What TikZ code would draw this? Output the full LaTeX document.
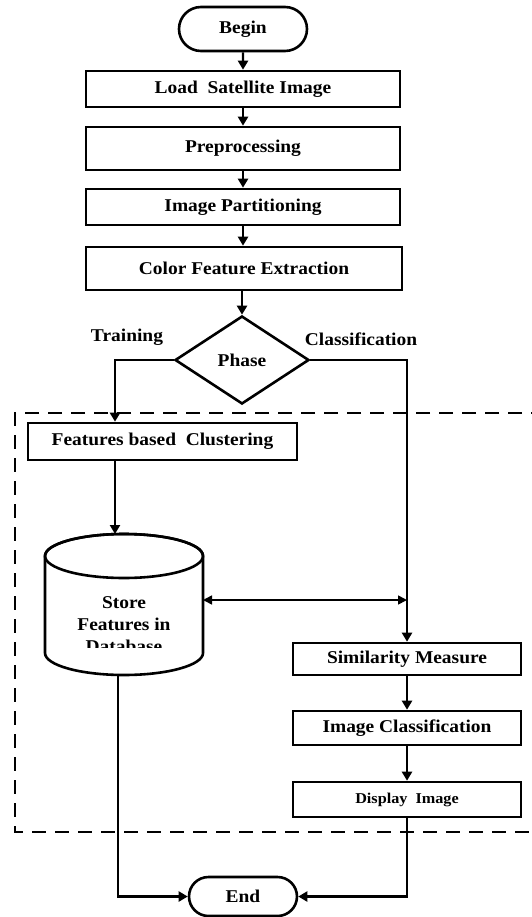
\documentclass[tikz,border=0pt]{standalone}
\usepackage{fontspec}
\setmainfont{Liberation Serif}[FakeStretch=1.08]
\usetikzlibrary{shapes.geometric,shapes.misc,arrows.meta}
\begin{document}
\begin{tikzpicture}[x=1pt,y=-1pt,
  txt/.style={font=\fontsize{18}{20}\selectfont\bfseries},
  box/.style={draw,line width=2.6pt,rectangle,fill=white,inner sep=0pt,txt},
  term/.style={draw,line width=2.6pt,rounded rectangle,fill=white,inner sep=0pt,txt},
  arr/.style={line width=2.2pt,-{Triangle[length=9pt,width=10pt]}},
  dbl/.style={line width=1.6pt,{Triangle[length=9pt,width=9pt]}-{Triangle[length=9pt,width=9pt]}},
  dashbox/.style={line width=2.6pt,dash pattern=on 14pt off 9pt}
]
\useasboundingbox (0,0) rectangle (532,917);

% dashed region
\draw[dashbox] (545,413) -- (15,413) -- (15,832) -- (545,832);

% top chain
\node[term,minimum width=128pt,minimum height=44pt] (begin) at (243,29) {Begin};
\node[box,minimum width=314pt,minimum height=36pt] (load) at (243,89) {Load\ \ Satellite Image};
\node[box,minimum width=314pt,minimum height=43pt] (pre) at (243,148.5) {Preprocessing};
\node[box,minimum width=314pt,minimum height=36pt] (part) at (243,207) {Image Partitioning};
\node[box,minimum width=316pt,minimum height=43pt] (cfe) at (244,268.5) {Color Feature Extraction};
\node[draw,diamond,line width=2.6pt,fill=white,inner sep=0pt,minimum width=134pt,minimum height=88pt,txt] (phase) at (242,360) {Phase};

\node[txt] (train) at (127,337) {Training};
\node[txt] (classlbl) at (361,339) {Classification};

% training branch
\node[box,minimum width=269pt,minimum height=37pt] (feat) at (162.5,441.5) {Features based\ \ Clustering};

% database cylinder
\draw[line width=2.6pt,fill=white] (45,556) -- (45,653)
  arc[start angle=180,end angle=0,x radius=79,y radius=22] -- (203,556)
  arc[start angle=0,end angle=-180,x radius=79,y radius=22] -- cycle;
\draw[line width=2.6pt] (124,556) ellipse[x radius=79,y radius=22];
\coordinate (dbtop) at (115,534);
\coordinate (dbr) at (203,600);
\coordinate (dbbot) at (118,675);
\begin{scope}
  \clip (47,580) rectangle (201,647);
  \node[txt,anchor=base] (db1) at (124,608) {Store};
  \node[txt,anchor=base] (db2) at (124,630) {Features in};
  \node[txt,anchor=base] (db3) at (124,652) {Database};
\end{scope}

% classification branch
\node[box,minimum width=228pt,minimum height=32pt] (sim) at (407,659) {Similarity Measure};
\node[box,minimum width=228pt,minimum height=34pt] (cls) at (407,728) {Image Classification};
\node[box,minimum width=228pt,minimum height=35pt,font=\fontsize{15}{17}\selectfont\bfseries] (disp) at (407,799.5) {Display\ \ Image};

\node[term,minimum width=108pt,minimum height=39pt] (end) at (243,896.5) {End};

% connectors
\draw[arr] (begin) -- (load);
\draw[arr] (load) -- (pre);
\draw[arr] (pre) -- (part);
\draw[arr] (part.south) -- (part.south |- cfe.north);
\draw[arr] (cfe.south -| phase.north) -- (phase.north);
\draw[arr] (phase.west) -| (feat.north -| dbtop);
\draw[arr] (feat.south -| dbtop) -- (dbtop);
\draw[arr] (phase.east) -| (sim.north);
\draw[dbl] (dbr) -- (dbr -| sim.north);
\draw[arr] (sim) -- (cls);
\draw[arr] (cls) -- (disp);
\draw[arr] (dbbot) |- (end.west);
\draw[arr] (disp.south) |- (end.east);
\end{tikzpicture}
\end{document}
